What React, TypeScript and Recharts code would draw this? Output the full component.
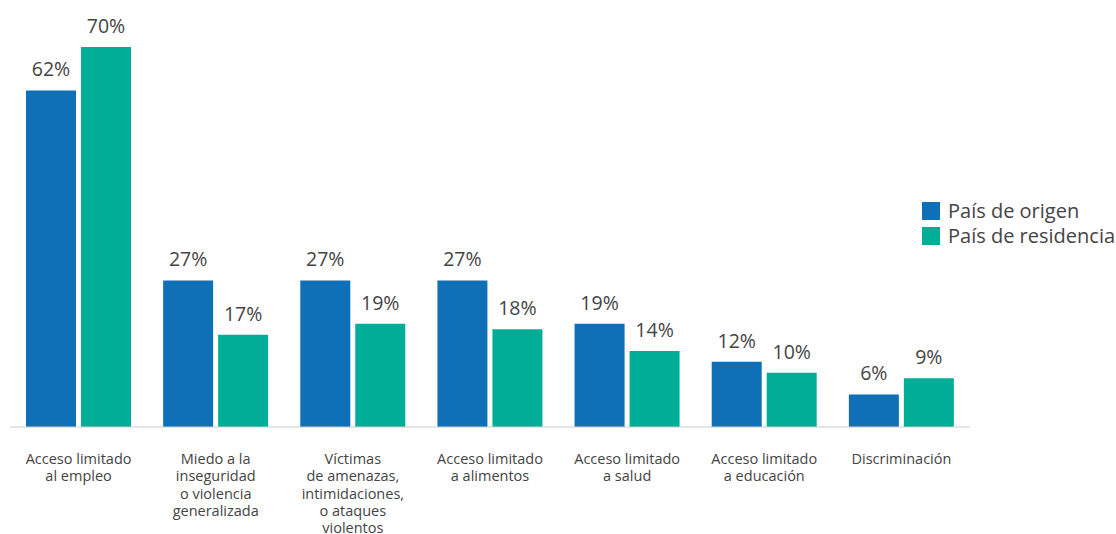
import React from 'react';
import { BarChart, Bar, XAxis, YAxis, LabelList } from 'recharts';

const categories = [
  'Acceso limitado\nal empleo',
  'Miedo a la\ninseguridad\no violencia\ngeneralizada',
  'Víctimas\nde amenazas,\nintimidaciones,\no ataques\nviolentos',
  'Acceso limitado\na alimentos',
  'Acceso limitado\na salud',
  'Acceso limitado\na educación',
  'Discriminación',
];
const origen = [62, 27, 27, 27, 19, 12, 6];
const residencia = [70, 17, 19, 18, 14, 10, 9];

const BLUE = '#0f70b7';
const TEAL = '#00ae98';
const FONT = '"Open Sans", Lato, sans-serif';

const data = categories.map((c, i) => ({ name: c, origen: origen[i], residencia: residencia[i] }));

const MultiLineTick = (props: any) => {
  const { x, y, payload } = props;
  const lines = String(payload.value).split('\n');
  return (
    <text x={x} y={y + 29} textAnchor="middle" fill="#444" fontSize={14.5} fontFamily={FONT}>
      {lines.map((l, i) => (
        <tspan key={i} x={x} dy={i === 0 ? 0 : 17.3}>{l}</tspan>
      ))}
    </text>
  );
};

const legendItems = [
  { label: 'País de origen', color: BLUE },
  { label: 'País de residencia', color: TEAL },
];

export default function App() {
  return (
    <div style={{ position: 'relative', width: 1116, height: 534, background: '#fff' }}>
      <style>{`body{margin:0}`}</style>
      <BarChart
        width={1116}
        height={534}
        data={data}
        margin={{ top: 47, right: 146, left: 10, bottom: 0 }}
        barCategoryGap={16}
        barGap={5}
      >
        <XAxis
          dataKey="name"
          interval={0}
          height={107}
          tickLine={false}
          axisLine={{ stroke: '#ccc' }}
          tick={<MultiLineTick />}
        />
        <YAxis hide domain={[0, 70]} />
        <Bar dataKey="origen" fill={BLUE} barSize={50} isAnimationActive={false}>
          <LabelList dataKey="origen" position="top" offset={14} formatter={(v: any) => `${v}%`}
            fill="#444" fontSize={19.5} fontFamily={FONT} />
        </Bar>
        <Bar dataKey="residencia" fill={TEAL} barSize={50} isAnimationActive={false}>
          <LabelList dataKey="residencia" position="top" offset={14} formatter={(v: any) => `${v}%`}
            fill="#444" fontSize={19.5} fontFamily={FONT} />
        </Bar>
      </BarChart>
      <div style={{ position: 'absolute', left: 922, top: 198, fontFamily: FONT, fontSize: 20, color: '#444' }}>
        {legendItems.map((it) => (
          <div key={it.label} style={{ display: 'flex', alignItems: 'center', height: 25 }}>
            <span style={{ display: 'inline-block', width: 18, height: 18, background: it.color, marginRight: 8 }} />
            <span>{it.label}</span>
          </div>
        ))}
      </div>
    </div>
  );
}
